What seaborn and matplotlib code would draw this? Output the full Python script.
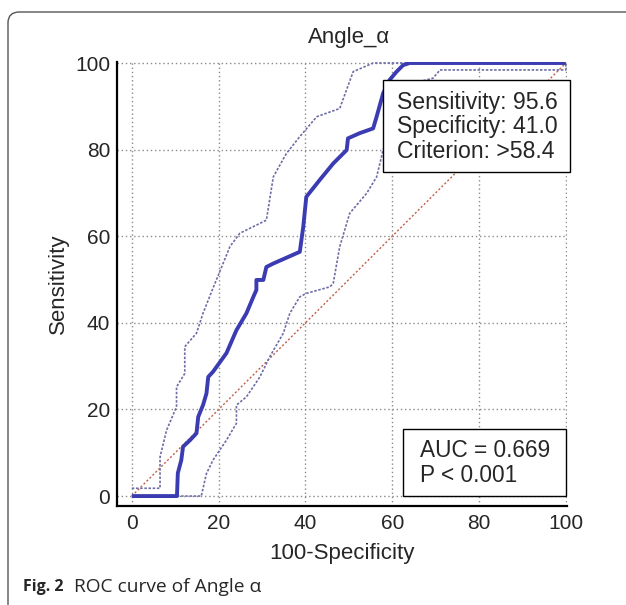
import numpy as np
import pandas as pd
import matplotlib
matplotlib.use("Agg")
import matplotlib.pyplot as plt
from matplotlib.patches import FancyBboxPatch, Rectangle
import seaborn as sns

# ROC curve for Angle_alpha
roc_fpr = [0, 10.4, 10.6, 11.4, 11.8, 13.4, 14.9, 15.3, 16.4, 17.2, 17.6, 18.7, 21.8, 24.1, 26.4, 28.0,
           28.7, 28.7, 30.3, 31.0, 32.6, 38.7, 39.5, 40.2, 43.3, 46.4, 49.5, 49.8, 52.5, 55.6, 56.4,
           57.9, 59.4, 61.0, 62.5, 64.0, 100]
roc_tpr = [0, 0, 5.3, 8.3, 11.4, 12.9, 14.5, 18.3, 21.0, 23.7, 27.5, 28.7, 33.0, 38.3, 42.2, 46.0,
           47.6, 49.9, 49.9, 52.9, 53.7, 56.4, 62.2, 69.1, 73.0, 76.8, 79.9, 82.6, 83.8, 84.9, 87.6,
           93.0, 96.1, 98.0, 99.5, 100, 100]

upper_fpr = [0, 6.5, 6.5, 8.0, 10.3, 10.3, 12.2, 12.2, 14.9, 16.4, 18.7, 22.6, 24.9, 31.0, 32.6,
             35.6, 38.7, 42.6, 47.9, 51.0, 55.6, 100]
upper_tpr = [1.8, 1.8, 9.0, 15.2, 20.6, 25.2, 28.3, 34.5, 37.6, 42.2, 48.0, 57.6, 60.7, 63.7, 73.7,
             79.1, 83.0, 87.6, 89.5, 98.0, 100, 100]

lower_fpr = [10.4, 16.0, 17.2, 18.7, 21.8, 24.1, 24.1, 26.4, 29.5, 31.8, 34.9, 36.4, 38.7, 40.2,
             45.6, 46.4, 47.9, 50.2, 54.1, 56.4, 57.9, 59.4, 61.8, 64.8, 69.4, 71.0, 100, 100]
lower_tpr = [0, 0, 5.2, 8.3, 12.9, 16.8, 21.0, 22.9, 27.5, 32.2, 37.6, 42.2, 46.0, 46.8,
             48.3, 49.1, 57.6, 65.3, 69.9, 73.7, 79.9, 83.8, 89.9, 95.3, 96.5, 98.4, 98.4, 100]

ref_x = [0, 100]
ref_y = [0, 100]

ticks = [0, 20, 40, 60, 80, 100]

crit_text = "Sensitivity: 95.6\nSpecificity: 41.0\nCriterion: >58.4"
auc_text = "AUC = 0.669\nP < 0.001"

sns.set_theme(style="white")
plt.rcParams["font.family"] = ["Liberation Sans", "DejaVu Sans"]

fig = plt.figure(figsize=(6.26, 6.05), dpi=100)
ax = fig.add_axes([0.187, 0.1636, 0.719, 0.7344])

# grid first so the curves sit on top
for t in ticks:
    ax.axhline(t, color="#8a8a8a", lw=1.0, ls=(0, (1, 2)), zorder=0)
    ax.axvline(t, color="#8a8a8a", lw=1.0, ls=(0, (1, 2)), zorder=0)

sns.lineplot(x=ref_x, y=ref_y, ax=ax, color="#c0604a", lw=1.0, ls=(0, (1.5, 1.5)))
sns.lineplot(x=upper_fpr, y=upper_tpr, ax=ax, sort=False, estimator=None,
             color="#6c6ca6", lw=1.2, ls=(0, (1.5, 1)))
sns.lineplot(x=lower_fpr, y=lower_tpr, ax=ax, sort=False, estimator=None,
             color="#6c6ca6", lw=1.2, ls=(0, (1.5, 1)))
sns.lineplot(x=roc_fpr, y=roc_tpr, ax=ax, sort=False, estimator=None,
             color="#3b3bb2", lw=2.8, solid_capstyle="butt")

ax.set_xlim(-3.4, 100.3)
ax.set_ylim(-2.3, 100.3)
ax.set_xticks(ticks)
ax.set_yticks(ticks)
sns.despine(ax=ax)
for s in ["left", "bottom"]:
    ax.spines[s].set_linewidth(1.6)
    ax.spines[s].set_color("black")
ax.tick_params(axis="y", direction="in", length=10.7, width=1.5, labelsize=15, pad=5, color="black")
ax.tick_params(axis="x", direction="in", length=7.2, width=1.5, labelsize=15, pad=6, color="black")

ax.set_xlabel("100-Specificity", fontsize=16, labelpad=7)
ax.set_ylabel("Sensitivity", fontsize=16, labelpad=4)
fig.text(349 / 626, 1 - 38 / 605, "Angle_α", ha="center", va="center", fontsize=16)

# annotation boxes
ax.add_patch(Rectangle((57.9, 74.9), 43.0, 21.2, fc="white", ec="black", lw=1.0,
                       zorder=5, clip_on=False))
ax.text(61.2, 85.3, crit_text, fontsize=16.6, ha="left", va="center",
        linespacing=1.08, zorder=6)
ax.add_patch(Rectangle((62.5, 0.0), 37.6, 15.6, fc="white", ec="black", lw=1.0,
                       zorder=5, clip_on=False))
ax.text(66.4, 7.6, auc_text, fontsize=16.3, ha="left", va="center",
        linespacing=1.1, zorder=6)

# figure panel frame with rounded top-left corner
frame = FancyBboxPatch((8 / 626, -0.2), 1.2, 1.2 - 12 / 605,
                       boxstyle="round,pad=0,rounding_size=0.018",
                       transform=fig.transFigure, fc="none", ec="#555555", lw=1.0)
fig.add_artist(frame)

fig.text(23 / 626, 1 - 587 / 605, "Fig. 2", fontsize=11.5, fontweight="bold",
         ha="left", va="center", family=["Open Sans", "DejaVu Sans"])
fig.text(74 / 626, 1 - 587 / 605, "ROC curve of Angle α", fontsize=13.8,
         ha="left", va="center", family=["Open Sans", "DejaVu Sans"])

fig.savefig("out.png", dpi=100)
